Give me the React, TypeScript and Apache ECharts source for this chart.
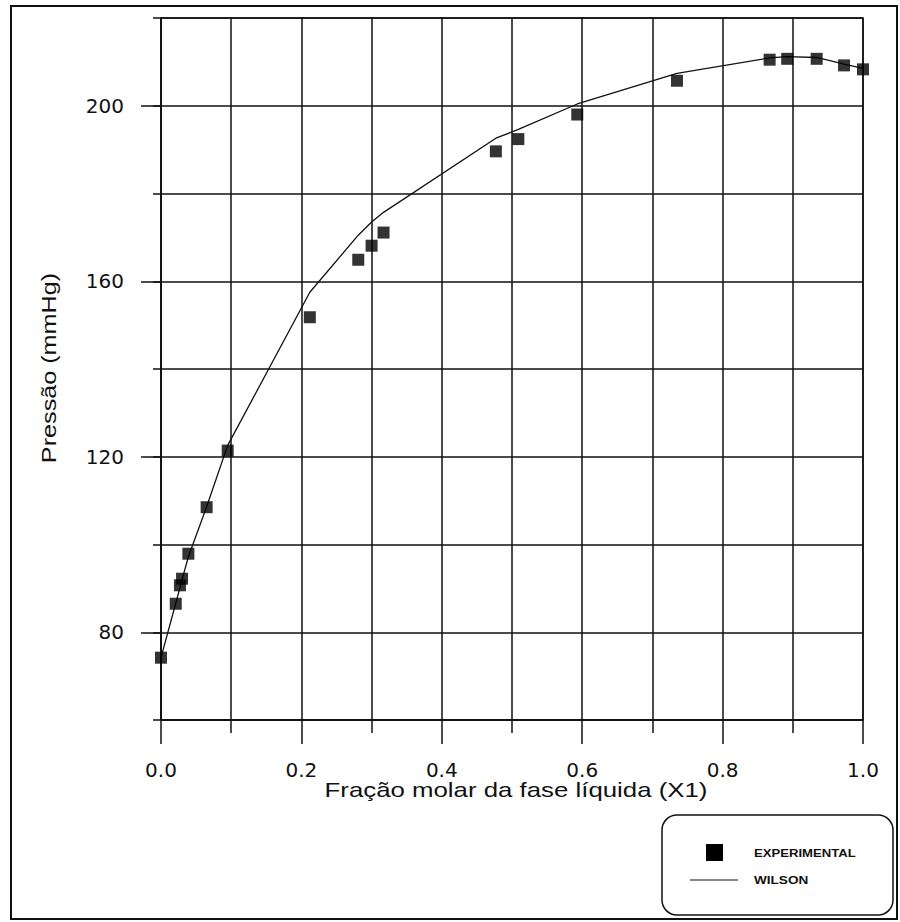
import React, { useEffect, useRef } from "react";
import * as echarts from "echarts";

// Experimental data (x1, pressure mmHg)
const expX = [0.0, 0.021, 0.027, 0.030, 0.039, 0.065, 0.095, 0.212, 0.281, 0.300, 0.317, 0.477, 0.509, 0.593, 0.735, 0.867, 0.892, 0.934, 0.973, 1.0];
const expP = [74.2, 86.5, 90.7, 92.2, 97.9, 108.5, 121.4, 151.8, 164.9, 168.1, 171.1, 189.6, 192.4, 198.0, 205.7, 210.5, 210.7, 210.7, 209.2, 208.3];
// Wilson model curve evaluated at the same compositions
const wilsonP = [74.2, 86.6, 90.2, 92.0, 97.2, 108.6, 122.6, 157.5, 170.5, 173.5, 175.7, 192.6, 194.6, 200.4, 207.4, 210.9, 211.2, 211.0, 209.5, 208.5];

const yLabelValues = [80, 120, 160, 200];
const seriesNames = ["EXPERIMENTAL", "WILSON"];
const xTitle = "Fração molar da fase líquida (X1)";
const yTitle = "Pressão (mmHg)";

export default function App() {
  const ref = useRef<HTMLDivElement>(null);
  useEffect(() => {
    if (!ref.current) return;
    const chart = echarts.init(ref.current, undefined, { renderer: "svg" });
    const ink = "#111";
    const gridLine = { lineStyle: { color: ink, width: 1.5 } };
    chart.setOption({
      animation: false,
      backgroundColor: "#fff",
      grid: { left: 161, right: 37, top: 18, bottom: 202, show: true, borderColor: ink, borderWidth: 1.5, backgroundColor: "transparent" },
      xAxis: {
        type: "value",
        min: 0,
        max: 1,
        interval: 0.2,
        axisLine: { show: true, lineStyle: { color: ink, width: 1.5 } },
        axisTick: { show: true, length: 24, lineStyle: { color: ink, width: 1.5 } },
        minorTick: { show: true, splitNumber: 2, length: 13, lineStyle: { color: ink, width: 1.5 } },
        splitLine: { show: true, ...gridLine },
        minorSplitLine: { show: true, ...gridLine },
        axisLabel: {
          margin: 40,
          fontFamily: "DejaVu Sans",
          fontSize: 20,
          color: ink,
          formatter: (v: number) => v.toFixed(1),
        },
      },
      yAxis: [
        {
          type: "value",
          min: 60,
          max: 220,
          interval: 20,
          axisLine: { show: true, lineStyle: { color: ink, width: 1.5 } },
          axisTick: { show: true, length: 8, lineStyle: { color: ink, width: 1.5 } },
          splitLine: { show: true, ...gridLine },
          axisLabel: {
            margin: 37,
            fontFamily: "DejaVu Sans",
            fontSize: 20,
            color: ink,
            formatter: (v: number) => (yLabelValues.indexOf(v) >= 0 ? String(v) : ""),
          },
        },
        {
          type: "value",
          min: 60,
          max: 220,
          position: "left",
          axisLine: { show: false },
          axisTick: { show: true, length: 20, customValues: yLabelValues, lineStyle: { color: ink, width: 1.5 } },
          splitLine: { show: false },
          axisLabel: { show: false },
        },
      ],
      series: [
        {
          name: seriesNames[1],
          type: "line",
          data: expX.map((x, i) => [x, wilsonP[i]]),
          showSymbol: false,
          symbol: "none",
          lineStyle: { color: ink, width: 1.3 },
          z: 3,
        },
        {
          name: seriesNames[0],
          type: "scatter",
          data: expX.map((x, i) => [x, expP[i]]),
          symbol: "rect",
          symbolSize: 12,
          itemStyle: { color: "#000" },
          z: 4,
        },
      ],
      graphic: [
        {
          type: "rect",
          shape: { x: 11, y: 6, width: 886, height: 913 },
          style: { fill: "none", stroke: ink, lineWidth: 2 },
          silent: true,
        },
        {
          type: "text",
          x: 516,
          y: 790,
          scaleX: 1.29,
          style: { text: xTitle, font: "20px 'Liberation Sans'", fill: ink, align: "center", verticalAlign: "middle" },
        },
        {
          type: "text",
          x: 49,
          y: 368,
          rotation: Math.PI / 2,
          scaleX: 1.26,
          style: { text: yTitle, font: "20px 'Liberation Sans'", fill: ink, align: "center", verticalAlign: "middle" },
        },
        {
          type: "rect",
          shape: { x: 662, y: 815, width: 231, height: 100, r: 15 },
          style: { fill: "#fff", stroke: ink, lineWidth: 1.5 },
        },
        {
          type: "rect",
          shape: { x: 706, y: 844, width: 17, height: 17 },
          style: { fill: "#000" },
        },
        {
          type: "line",
          shape: { x1: 690, y1: 880, x2: 738, y2: 880 },
          style: { stroke: ink, lineWidth: 1.2 },
        },
        {
          type: "text",
          x: 754,
          y: 853,
          scaleX: 1.14,
          style: { text: seriesNames[0], font: "bold 11.5px 'Liberation Sans'", fill: ink, align: "left", verticalAlign: "middle" },
        },
        {
          type: "text",
          x: 754,
          y: 880,
          scaleX: 1.18,
          style: { text: seriesNames[1], font: "bold 11.5px 'Liberation Sans'", fill: ink, align: "left", verticalAlign: "middle" },
        },
      ],
    });
    return () => chart.dispose();
  }, []);
  return (
    <div
      ref={ref}
      style={{ position: "fixed", left: 0, top: 0, width: 900, height: 922, background: "#fff" }}
    />
  );
}
